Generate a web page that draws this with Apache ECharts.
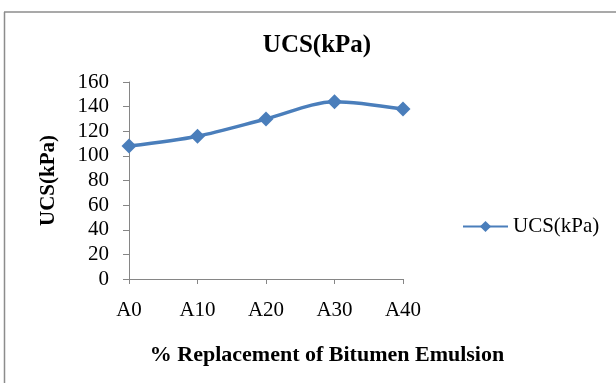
<!DOCTYPE html>
<html>
<head>
<meta charset="utf-8">
<script src="https://cdn.jsdelivr.net/npm/echarts@6/dist/echarts.min.js"></script>
<style>
  html, body { margin: 0; padding: 0; background: #fff; }
  #chart { width: 616px; height: 383px; }
</style>
</head>
<body>
<div id="chart"></div>
<script>
const categories = ["A0", "A10", "A20", "A30", "A40"];
const ucsValues = [108, 116, 130, 144, 138];
const seriesName = "UCS(kPa)";

const serif = "Liberation Serif";
const blue = "#4a7ebb";

const chart = echarts.init(document.getElementById("chart"));
chart.setOption({
  animation: false,
  title: [
    {
      text: "UCS(kPa)",
      left: 312,
      top: 28,
      textAlign: "center",
      textStyle: { fontFamily: serif, fontSize: 25, fontWeight: "bold", color: "#000" },
    },
    {
      // x axis caption sits centred on the whole chart, not the plot
      text: "% Replacement of Bitumen Emulsion",
      left: 322,
      top: 339,
      textAlign: "center",
      textStyle: { fontFamily: serif, fontSize: 22, fontWeight: "bold", color: "#000" },
    },
  ],
  legend: {
    left: 457,
    top: 211,
    itemWidth: 45,
    itemHeight: 14,
    itemGap: 4,
    textStyle: { fontFamily: serif, fontSize: 21, color: "#000" },
    data: [seriesName],
  },
  grid: { left: 129, top: 82, width: 274, height: 197 },
  xAxis: {
    type: "category",
    data: categories,
    boundaryGap: false,
    axisLine: { lineStyle: { color: "#868686" } },
    axisTick: { length: 5, lineStyle: { color: "#868686" } },
    axisLabel: { margin: 21, fontFamily: serif, fontSize: 21, color: "#000" },
  },
  yAxis: {
    type: "value",
    min: 0,
    max: 160,
    interval: 20,
    splitLine: { show: false },
    axisLine: { show: true, lineStyle: { color: "#868686" } },
    axisTick: { show: true, length: 6, lineStyle: { color: "#868686" } },
    axisLabel: { margin: 20, fontFamily: serif, fontSize: 21, color: "#000" },
    name: "UCS(kPa)",
    nameLocation: "middle",
    nameGap: 70,
    nameTextStyle: { fontFamily: serif, fontSize: 21, fontWeight: "bold", color: "#000" },
  },
  series: [
    {
      name: seriesName,
      type: "line",
      data: ucsValues,
      smooth: 0.3,
      symbol: "diamond",
      symbolSize: 15,
      lineStyle: { width: 3.5, color: blue },
      itemStyle: { color: blue },
    },
  ],
  graphic: [
    { type: "line", shape: { x1: 4, y1: 12, x2: 616, y2: 12 }, style: { stroke: "#8c8c8c", lineWidth: 1.5 } },
    { type: "line", shape: { x1: 4.5, y1: 12, x2: 4.5, y2: 383 }, style: { stroke: "#8c8c8c", lineWidth: 1.5 } },
  ],
});
</script>
</body>
</html>
